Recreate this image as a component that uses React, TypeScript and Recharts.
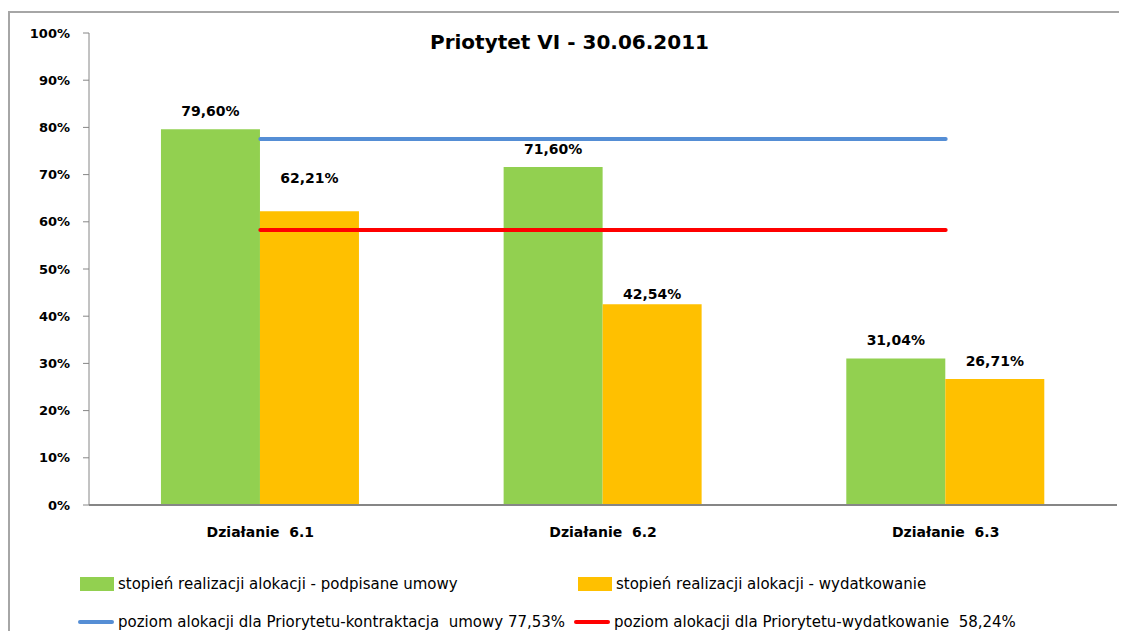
import React from "react";
import {
  ComposedChart,
  Bar,
  Line,
  XAxis,
  YAxis,
  Legend,
  LabelList,
} from "recharts";

const categories = ["Działanie\u00a0 6.1", "Działanie\u00a0 6.2", "Działanie\u00a0 6.3"];
const contracted = [79.6, 71.6, 31.04];
const spent = [62.21, 42.54, 26.71];
const contractLevel = [77.53, 77.53, 77.53];
const spendLevel = [58.24, 58.24, 58.24];
const yTicks = [0, 10, 20, 30, 40, 50, 60, 70, 80, 90, 100];

const SERIES_NAMES = {
  contracted: "stopień realizacji alokacji - podpisane umowy",
  spent: "stopień realizacji alokacji - wydatkowanie",
  contractLevel: "poziom alokacji dla Priorytetu-kontraktacja  umowy 77,53%",
  spendLevel: "poziom alokacji dla Priorytetu-wydatkowanie  58,24%",
};

const GREEN = "#92d050";
const YELLOW = "#ffc000";
const BLUE = "#558ed5";
const RED = "#ff0000";
const AXIS = "#868686";
const FONT = "'DejaVu Sans', sans-serif";

const W = 1119;
const H = 623;

const data = categories.map((name, i) => ({
  name,
  contracted: contracted[i],
  spent: spent[i],
  contractLevel: contractLevel[i],
  spendLevel: spendLevel[i],
}));

const fmt = (v: number) => v.toFixed(2).replace(".", ",") + "%";

// excel pushed a couple of labels away from the lines
const nudge: Record<string, number[]> = {
  contracted: [0, 0, 0],
  spent: [-15, 8, 0],
};

const makeLabel = (key: string) => (props: any) => {
  const { x, y, width, value, index } = props;
  return (
    <text
      x={x + width / 2}
      y={y - 18 + nudge[key][index]}
      textAnchor="middle"
      dominantBaseline="central"
      fontFamily={FONT}
      fontWeight="bold"
      fontSize={14}
      fill="#000"
    >
      {fmt(value)}
    </text>
  );
};

function LegendBox() {
  const item = (icon: React.ReactNode, label: string, left: number, top: number) => (
    <div
      style={{
        position: "absolute",
        left,
        top,
        display: "flex",
        alignItems: "center",
        whiteSpace: "pre",
      }}
    >
      {icon}
      <span style={{ marginLeft: 4, fontSize: 15, color: "#000", fontFamily: FONT }}>{label}</span>
    </div>
  );
  const box = (c: string) => <div style={{ width: 34, height: 14, background: c }} />;
  const line = (c: string) => <div style={{ width: 36, height: 4, background: c, borderRadius: 2 }} />;
  return (
    <div style={{ position: "relative", width: W, height: 76 }}>
      {item(box(GREEN), SERIES_NAMES.contracted, 72, 20)}
      {item(box(YELLOW), SERIES_NAMES.spent, 570, 20)}
      {item(line(BLUE), SERIES_NAMES.contractLevel, 70, 58)}
      {item(line(RED), SERIES_NAMES.spendLevel, 566, 58)}
    </div>
  );
}

export default function App() {
  return (
    <div style={{ position: "relative", width: W, height: H, overflow: "hidden" }}>
      <div
        style={{
          position: "absolute",
          left: 0,
          top: 3,
          width: 1200,
          height: 700,
          borderTop: "2px solid #a6a6a6",
          borderLeft: "2px solid #a6a6a6",
        }}
      />
      <div
        style={{
          position: "absolute",
          left: 0,
          width: 1119,
          top: 22,
          textAlign: "center",
          fontFamily: FONT,
          fontWeight: "bold",
          fontSize: 20,
          color: "#000",
          zIndex: 2,
        }}
      >
        <span style={{ marginLeft: 4 }}>Priotytet VI - 30.06.2011</span>
      </div>
      <ComposedChart
        width={W}
        height={H}
        data={data}
        margin={{ top: 25, right: 10, left: 0, bottom: 0 }}
        barCategoryGap="21%"
        barGap={0}
      >
        {/* boundary ticks like excel: separate numeric axis underneath the categories */}
        <XAxis
          type="number"
          domain={[0, 3]}
          ticks={[0, 1, 2, 3]}
          tick={false}
          height={1}
          tickSize={6}
          stroke={AXIS}
          strokeWidth={2}
        />
        <XAxis
          xAxisId="cat"
          dataKey="name"
          height={49}
          axisLine={false}
          tickLine={false}
          tickSize={0}
          tickMargin={21}
          tick={{ fill: "#000", fontFamily: FONT, fontWeight: "bold", fontSize: 14 }}
        />
        <YAxis
          width={81}
          domain={[0, 100]}
          ticks={yTicks}
          tickFormatter={(v) => `${v}%`}
          stroke={AXIS}
          tickSize={6}
          tickMargin={13}
          tick={{ fill: "#000", fontFamily: FONT, fontWeight: "bold", fontSize: 13 }}
          interval={0}
        />
        <Legend verticalAlign="bottom" content={() => <LegendBox />} />
        <Bar xAxisId="cat" dataKey="contracted" name={SERIES_NAMES.contracted} fill={GREEN} isAnimationActive={false}>
          <LabelList dataKey="contracted" content={makeLabel("contracted")} />
        </Bar>
        <Bar xAxisId="cat" dataKey="spent" name={SERIES_NAMES.spent} fill={YELLOW} isAnimationActive={false}>
          <LabelList dataKey="spent" content={makeLabel("spent")} />
        </Bar>
        <Line
          xAxisId="cat"
          dataKey="contractLevel"
          name={SERIES_NAMES.contractLevel}
          stroke={BLUE}
          strokeWidth={4}
          strokeLinecap="round"
          dot={false}
          activeDot={false}
          isAnimationActive={false}
        />
        <Line
          xAxisId="cat"
          dataKey="spendLevel"
          name={SERIES_NAMES.spendLevel}
          stroke={RED}
          strokeWidth={4}
          strokeLinecap="round"
          dot={false}
          activeDot={false}
          isAnimationActive={false}
        />
      </ComposedChart>
    </div>
  );
}
